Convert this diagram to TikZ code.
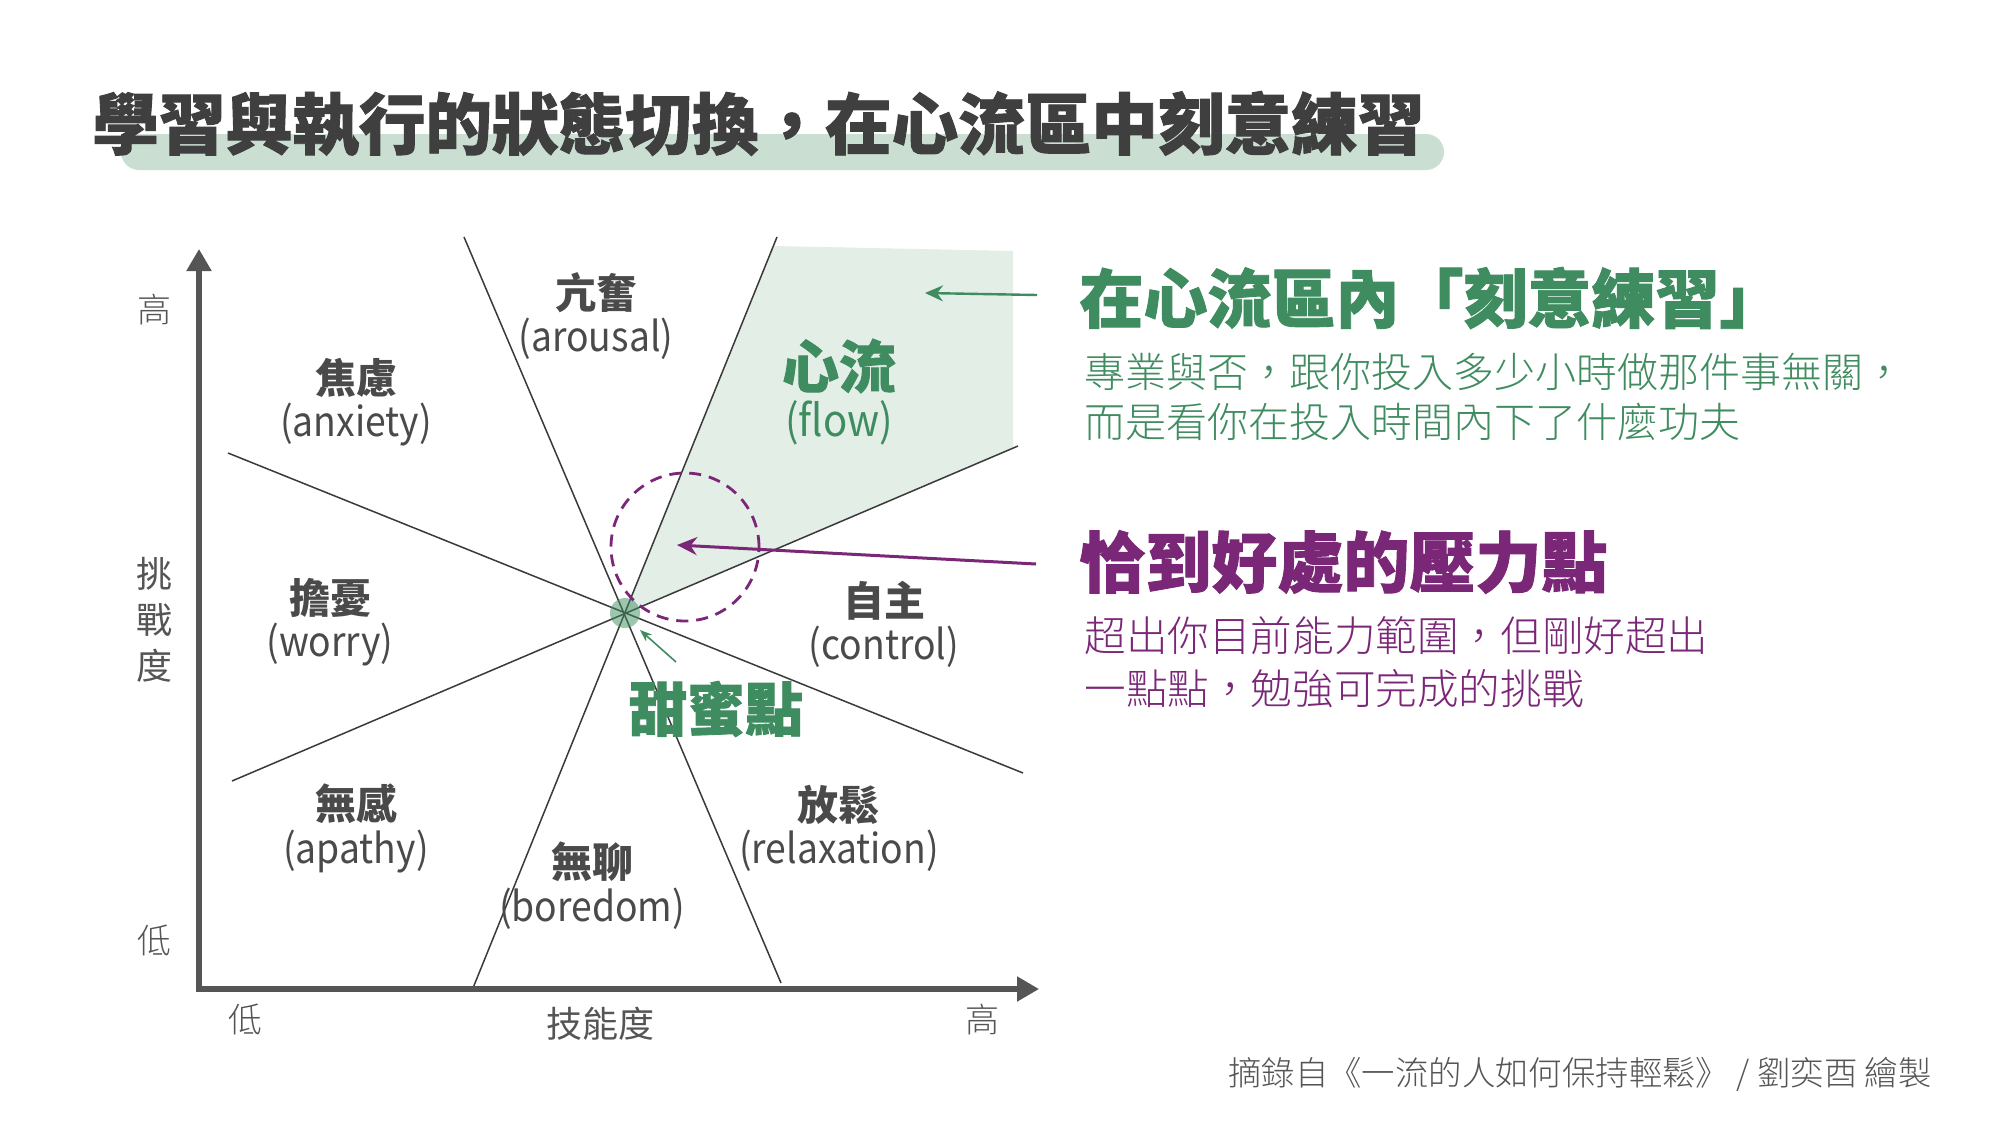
\documentclass[tikz,border=0pt]{standalone}
\usepackage{fontspec}
\setmainfont{Noto Sans CJK TC}
\newfontfamily\heavyfont{Noto Sans CJK TC}[BoldFeatures={FakeBold=1.4}]
\newfontfamily\lightfont{Noto Sans CJK TC Light}[Script=CJK, Language=Chinese Traditional]
\newfontfamily\enfont{Noto Sans CJK TC}[FakeStretch=0.91]
\usetikzlibrary{arrows.meta}
\definecolor{flowgreen}{HTML}{3E8C5F}
\definecolor{purp}{HTML}{7B2778}
\definecolor{flowfill}{HTML}{E2EEE6}
\definecolor{barfill}{HTML}{CADFD1}
\definecolor{titlegray}{HTML}{3F3F3F}
\definecolor{txtgray}{HTML}{4A4A4A}
\definecolor{axisgray}{HTML}{555555}
\definecolor{linegray}{HTML}{3A3A3A}
\tikzset{
  zlabel/.style={inner sep=0, text=txtgray, font=\bfseries\fontsize{20.5}{24}\selectfont},
  elabel/.style={inner sep=0, text=txtgray, font=\enfont\fontsize{20.5}{24}\selectfont},
  axlabel/.style={inner sep=0, text=axisgray, font=\lightfont\fontsize{17}{20}\selectfont},
  sepline/.style={draw=linegray, line width=0.75pt},
  axisline/.style={draw=axisgray, line width=2.6pt, -{Triangle[length=11pt,width=12pt]}},
  rtext/.style={inner sep=0, anchor=west},
}
\begin{document}
\begin{tikzpicture}[x=0.5pt,y=-0.5pt]
\useasboundingbox (0,0) rectangle (2000,1125);
\fill[white] (0,0) rectangle (2000,1125);

% title
\fill[barfill, rounded corners=9pt] (121,134) rectangle (1444,170);
\node[rtext, text=titlegray, font=\heavyfont\bfseries\fontsize{33.3}{40}\selectfont] (title) at (92,124) {學習與執行的狀態切換，在心流區中刻意練習};

% flow region
\fill[flowfill] (625,613) -- (774,246) -- (1013,251) -- (1013,448) -- cycle;

% separator lines
\coordinate (c) at (625,613);
\coordinate (l1a) at (464,237); \coordinate (l1b) at (781,983);
\coordinate (l2a) at (777,237); \coordinate (l2b) at (473,988);
\coordinate (l3a) at (228,453); \coordinate (l3b) at (1023,773);
\coordinate (l4a) at (232,781); \coordinate (l4b) at (1018,446);
\draw[sepline] (l1a) -- (l1b);
\draw[sepline] (l2a) -- (l2b);
\draw[sepline] (l3a) -- (l3b);
\draw[sepline] (l4a) -- (l4b);

% axes
\coordinate (origin) at (199,989);
\coordinate (ytop) at (199,249);
\coordinate (xend) at (1039,989);
\draw[axisline] (origin) -- (ytop);
\draw[axisline] ([xshift=-1.3pt]origin) -- (xend);

% axis labels
\node[axlabel] (yhigh) at (154,310) {高};
\node[axlabel, font=\fontsize{18}{23}\selectfont, align=center] (ytitle) at (154,620) {挑\\戰\\度};
\node[axlabel] (ylow) at (154,940) {低};
\node[axlabel] (xlow) at (245,1019) {低};
\node[axlabel, font=\fontsize{18}{22}\selectfont] (xtitle) at (600,1024) {技能度};
\node[axlabel] (xhigh) at (982,1020) {高};

% zone labels
\node[zlabel] (arZ) at (596,293) {亢奮};
\node[elabel] (arE) at (596,339) {(arousal)};
\node[zlabel] (anZ) at (356,378) {焦慮};
\node[elabel] (anE) at (356,425) {(anxiety)};
\node[zlabel, text=flowgreen, font=\heavyfont\bfseries\fontsize{28.5}{32}\selectfont] (flZ) at (839,366) {心流};
\node[elabel, text=flowgreen, font=\enfont\fontsize{22}{26}\selectfont] (flE) at (839,423) {(flow)};
\node[zlabel] (woZ) at (330,598) {擔憂};
\node[elabel] (woE) at (330,645) {(worry)};
\node[zlabel] (coZ) at (884,601) {自主};
\node[elabel] (coE) at (884,647) {(control)};
\node[zlabel] (apZ) at (356,804) {無感};
\node[elabel] (apE) at (356,852) {(apathy)};
\node[zlabel] (boZ) at (592,862) {無聊};
\node[elabel] (boE) at (592,909) {(boredom)};
\node[zlabel] (reZ) at (838,805) {放鬆};
\node[elabel] (reE) at (839,851) {(relaxation)};

% sweet point
\node[circle, fill=flowgreen, fill opacity=0.5, minimum size=15pt, inner sep=0] (sp) at (c) {};
\node[inner sep=0, text=flowgreen, font=\heavyfont\bfseries\fontsize{29}{32}\selectfont] (sweet) at (716,709) {甜蜜點};
\coordinate (sa) at (676,662);
\coordinate (stip) at (640,630);
\draw[flowgreen, line width=0.8pt, -{Stealth[length=6pt,width=4.5pt]}] (sa) -- (stip);

% pressure circle
\node[circle, draw=purp, dash pattern=on 6pt off 4pt, line width=1.4pt, minimum size=74pt, inner sep=0] (press) at (685,547) {};

% right texts
\node[rtext, text=flowgreen, font=\heavyfont\bfseries\fontsize{32}{38}\selectfont] (h1) at (1079,298) {在心流區內「刻意練習」};
\node[rtext, text=flowgreen, font=\lightfont\fontsize{20.5}{24}\selectfont] (d1) at (1084,372) {專業與否，跟你投入多少小時做那件事無關，};
\node[rtext, text=flowgreen, font=\lightfont\fontsize{20.5}{24}\selectfont] (d2) at (1084,422) {而是看你在投入時間內下了什麼功夫};
\node[rtext, text=purp, font=\heavyfont\bfseries\fontsize{33}{38}\selectfont] (h2) at (1079,562) {恰到好處的壓力點};
\node[rtext, text=purp, font=\lightfont\fontsize{20.8}{24}\selectfont] (p1) at (1084,636) {超出你目前能力範圍，但剛好超出};
\node[rtext, text=purp, font=\lightfont\fontsize{20.8}{24}\selectfont] (p2) at (1084,689) {一點點，勉強可完成的挑戰};

% arrows from right texts
\coordinate (ga) at (1037,295);
\coordinate (gtip) at (925,293);
\draw[flowgreen, line width=1.2pt, -{Stealth[length=9pt,width=8pt]}] (ga) -- (gtip);
\coordinate (pa) at (1036,564);
\coordinate (ptip) at (677,545);
\draw[purp, line width=1.5pt, -{Stealth[length=10pt,width=9pt]}] (pa) -- (ptip);

% footer
\node[inner sep=0, anchor=east, text=axisgray, font=\lightfont\fontsize{16.7}{20}\selectfont] (foot) at (1932,1074) {摘錄自《一流的人如何保持輕鬆》 / 劉奕酉 繪製};
\end{tikzpicture}
\end{document}
